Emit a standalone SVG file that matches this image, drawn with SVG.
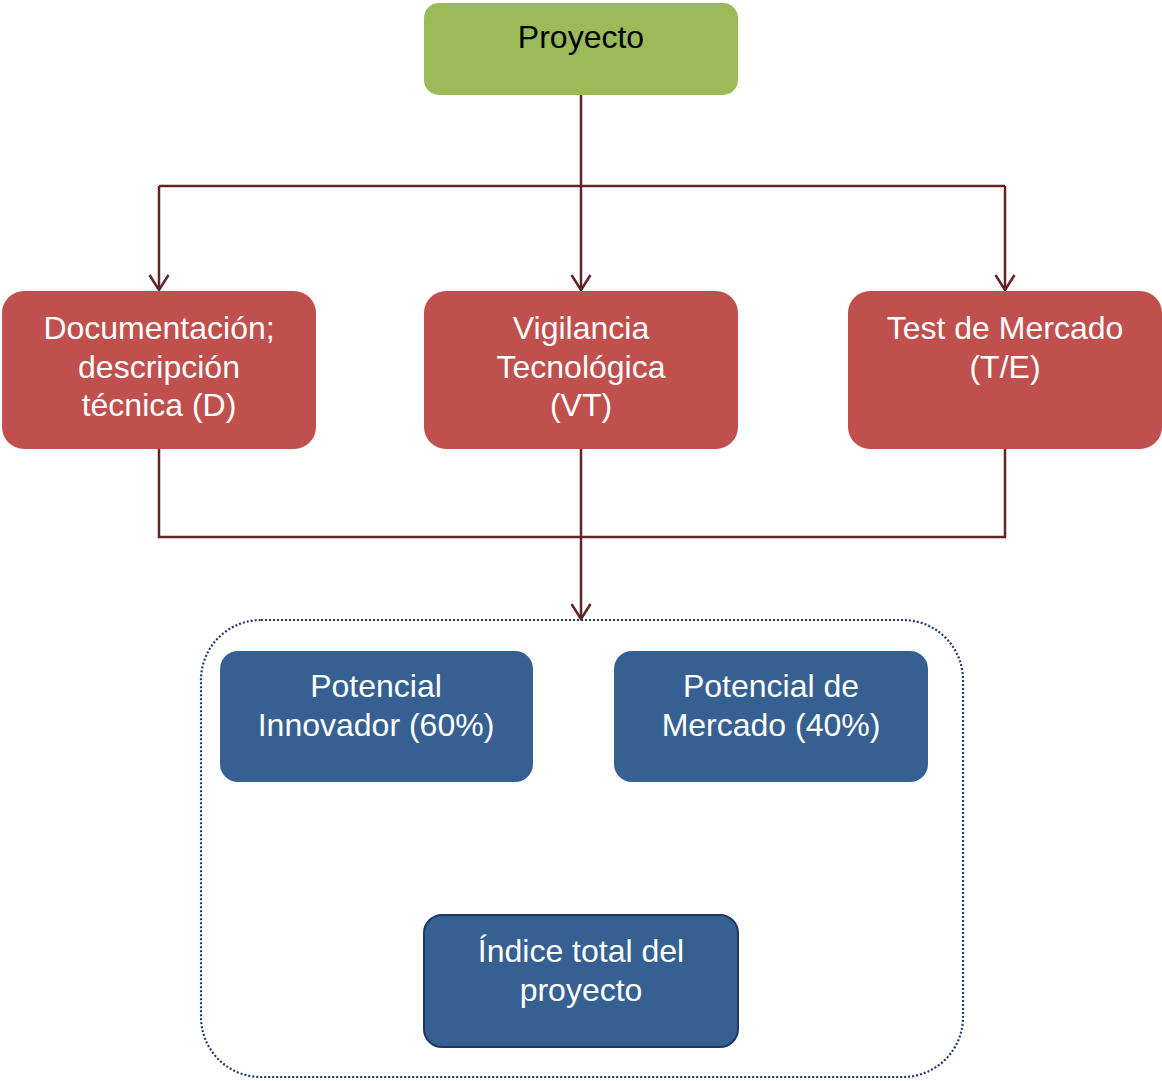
<svg xmlns="http://www.w3.org/2000/svg" width="1162" height="1081" viewBox="0 0 1162 1081">
  <defs>
    <style>
      .lbl { font-family: "Liberation Sans", Arial, sans-serif; font-size: 32px; text-anchor: middle; }
      .dark { fill: #000000; }
      .light { fill: #FFFFFF; }
      .green { fill: #9BBB59; }
      .red { fill: #C0504D; }
      .blue { fill: #366092; }
      .conn { fill: none; stroke: #632523; stroke-width: 2.5; }
    </style>
    <!-- open V arrowhead, drawn along +x so orient="auto" follows the line -->
    <marker id="vhead" viewBox="0 0 20 22" refX="18" refY="11" markerWidth="20" markerHeight="22" markerUnits="userSpaceOnUse" orient="auto">
      <path d="M3,1.5 L18,11 L3,20.5" fill="none" stroke="#632523" stroke-width="2.5"/>
    </marker>
  </defs>

  <rect width="1162" height="1081" fill="#FFFFFF"/>

  <!-- connectors -->
  <g id="connectors">
    <path class="conn" d="M581,95 V290" marker-end="url(#vhead)"/>
    <path class="conn" d="M159,186 H1005"/>
    <path class="conn" d="M159,186 V290" marker-end="url(#vhead)"/>
    <path class="conn" d="M1005,186 V290" marker-end="url(#vhead)"/>
    <path class="conn" d="M159,449 V537 H1005 V449"/>
    <path class="conn" d="M581,449 V619" marker-end="url(#vhead)"/>
  </g>

  <!-- dotted container around the results -->
  <g id="results-frame">
    <rect x="201" y="620" width="762" height="457" rx="60" ry="60" fill="none" stroke="#1F3A6E" stroke-width="2.2" stroke-dasharray="2 2"/>
  </g>

  <g id="proyecto">
    <rect class="green" x="424" y="3" width="314" height="92" rx="15" ry="15"/>
    <text class="lbl dark" x="581" y="48">Proyecto</text>
  </g>

  <g id="documentacion">
    <rect class="red" x="2" y="291" width="314" height="158" rx="22" ry="22"/>
    <text class="lbl light" x="159" y="339">Documentación;</text>
    <text class="lbl light" x="159" y="378">descripción</text>
    <text class="lbl light" x="159" y="416">técnica (D)</text>
  </g>

  <g id="vigilancia">
    <rect class="red" x="424" y="291" width="314" height="158" rx="22" ry="22"/>
    <text class="lbl light" x="581" y="339">Vigilancia</text>
    <text class="lbl light" x="581" y="378">Tecnológica</text>
    <text class="lbl light" x="581" y="416">(VT)</text>
  </g>

  <g id="test-mercado">
    <rect class="red" x="848" y="291" width="314" height="158" rx="22" ry="22"/>
    <text class="lbl light" x="1005" y="339">Test de Mercado</text>
    <text class="lbl light" x="1005" y="378">(T/E)</text>
  </g>

  <g id="potencial-innovador">
    <rect class="blue" x="220" y="651" width="313" height="131" rx="18" ry="18"/>
    <text class="lbl light" x="376" y="697">Potencial</text>
    <text class="lbl light" x="376" y="736">Innovador (60%)</text>
  </g>

  <g id="potencial-mercado">
    <rect class="blue" x="614" y="651" width="314" height="131" rx="18" ry="18"/>
    <text class="lbl light" x="771" y="697">Potencial de</text>
    <text class="lbl light" x="771" y="736">Mercado (40%)</text>
  </g>

  <g id="indice-total">
    <rect class="blue" x="424" y="915" width="314" height="132" rx="18" ry="18" stroke="#1F3864" stroke-width="2"/>
    <text class="lbl light" x="581" y="962">Índice total del</text>
    <text class="lbl light" x="581" y="1001">proyecto</text>
  </g>
</svg>
